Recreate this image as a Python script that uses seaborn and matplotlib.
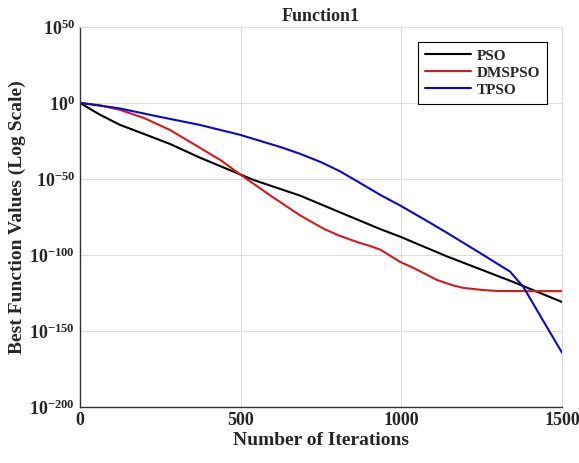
import numpy as np
import pandas as pd
import matplotlib
matplotlib.use("Agg")
import matplotlib.pyplot as plt
import seaborn as sns

# values, stored as log10 of best function value
pso_iter = [0, 60, 125, 200, 280, 373, 498, 540, 685, 809, 934, 996, 1142, 1348, 1500]
pso_exp = [0, -7.5, -14.5, -20.5, -27, -36, -47, -50.7, -61, -72, -83, -88, -101, -117.8, -131]

dms_iter = [0, 60, 125, 200, 280, 373, 440, 498, 600, 685, 760, 809, 862, 902, 934, 996, 1037,
            1111, 1160, 1193, 1250, 1298, 1400, 1500]
dms_exp = [0, -1.5, -4.6, -10, -17.8, -29.5, -38, -47, -62, -74, -83, -87.5, -91.5, -94.1, -96.5,
           -104.6, -108.5, -116.5, -120, -121.7, -123, -123.7, -123.8, -123.8]

tpso_iter = [0, 120, 249, 373, 498, 623, 685, 750, 809, 870, 934, 996, 1070, 1142, 1245, 1338, 1379, 1440, 1500]
tpso_exp = [0, -3.5, -9.2, -14.5, -21, -29, -33.5, -39, -45, -52.5, -60.5, -67.5, -76.5, -85.5, -98.8, -111, -121, -143, -164.5]

algos = ["PSO", "DMSPSO", "TPSO"]
colors = ["black", "#d7191c", "#0a0ac8"]

frames = []
for name, it, ex in zip(algos, [pso_iter, dms_iter, tpso_iter], [pso_exp, dms_exp, tpso_exp]):
    frames.append(pd.DataFrame({"iter": it, "val": np.power(10.0, ex), "algo": name}))
df = pd.concat(frames, ignore_index=True)

sns.set_style("white")
plt.rcParams['font.family'] = ['Liberation Serif', 'DejaVu Serif']
plt.rcParams['font.weight'] = 'bold'
plt.rcParams['mathtext.fontset'] = 'custom'
plt.rcParams['mathtext.rm'] = 'Liberation Serif:bold'
plt.rcParams['mathtext.bf'] = 'Liberation Serif:bold'
plt.rcParams['mathtext.it'] = 'Liberation Serif:bold'

fig = plt.figure(figsize=(5.79, 4.63), dpi=100)
ax = fig.add_axes([0.138, 0.121, 0.833, 0.821])

sns.lineplot(data=df, x="iter", y="val", hue="algo", palette=dict(zip(algos, colors)),
             linewidth=1.5, ax=ax, sort=False)

ax.set_yscale("log")
ax.set_xlim(0, 1500)
ax.set_ylim(1e-200, 1e50)
ax.set_xticks([0, 500, 1000, 1500])
yt = [-200, -150, -100, -50, 0, 50]
ax.set_yticks([10.0 ** e for e in yt])
ax.set_yticklabels([r"$\mathbf{10^{%d}}$" % e for e in yt])
ax.yaxis.set_minor_locator(matplotlib.ticker.NullLocator())
ax.tick_params(axis="both", direction="in", length=4, labelsize=13, width=0.8)
for lbl in ax.get_xticklabels():
    lbl.set_fontweight("bold")

ax.grid(True, color="#dddddd", linewidth=0.8)
for side in ["top", "right"]:
    ax.spines[side].set_color("#dddddd")
for side in ["left", "bottom"]:
    ax.spines[side].set_color("#333333")
    ax.spines[side].set_linewidth(1.0)

ax.set_xlabel("Number of Iterations", fontsize=14, fontweight="bold", labelpad=2)
ax.set_ylabel("Best Function Values (Log Scale)", fontsize=14, fontweight="bold", labelpad=2)
ax.set_title("Function1", fontsize=13, fontweight="bold", pad=4)

leg = ax.legend(loc="upper right", bbox_to_anchor=(0.969, 0.96), borderaxespad=0,
                fancybox=False, framealpha=1, edgecolor="black", fontsize=11,
                handlelength=3.0, borderpad=0.45, labelspacing=0.22, handletextpad=0.4,
                title=None)
leg.get_frame().set_linewidth(0.8)
for t in leg.get_texts():
    t.set_fontweight("bold")

fig.savefig("out.png", dpi=100)
